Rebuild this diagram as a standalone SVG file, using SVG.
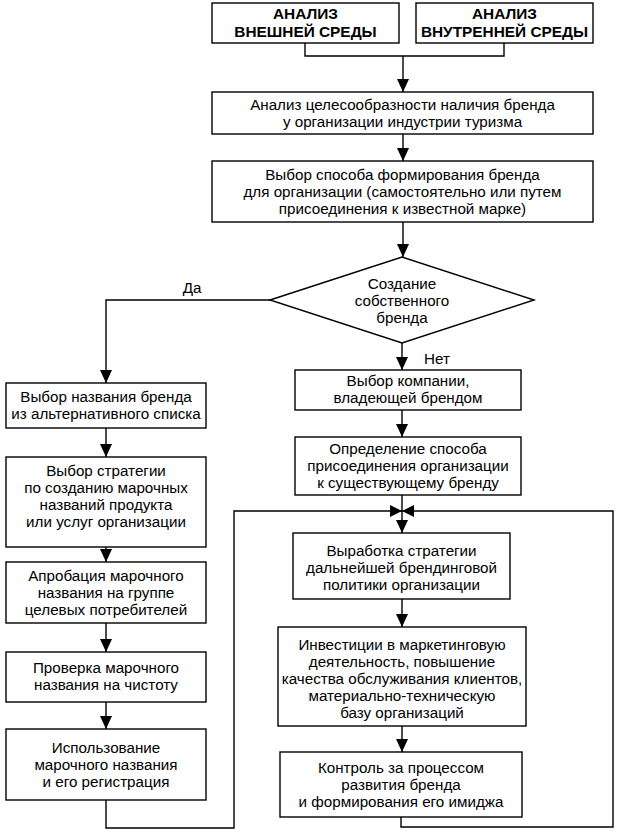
<svg xmlns="http://www.w3.org/2000/svg" width="623" height="833" viewBox="0 0 623 833">
<defs>
<marker id="arr" markerUnits="userSpaceOnUse" markerWidth="14" markerHeight="12" refX="13" refY="6" orient="auto" viewBox="0 0 14 12">
<path d="M0,0 L13,6 L0,12 Z" fill="#000"/>
</marker>
<style>
.b{fill:#fff;stroke:#000;stroke-width:1.4}
.c{fill:none;stroke:#000;stroke-width:1.4}
text{font-family:"Liberation Sans",Arial,sans-serif;font-size:15.2px;fill:#000;text-anchor:middle}
.h{font-weight:bold;font-size:15.4px}
</style>
</defs>
<rect width="623" height="833" fill="#fff"/>
<g id="connectors">
<path class="c" d="M305,43 V56 H504 V43"/>
<path class="c" d="M403,56 V92" marker-end="url(#arr)"/>
<path class="c" d="M403,134 V161" marker-end="url(#arr)"/>
<path class="c" d="M403,222 V257" marker-end="url(#arr)"/>
<path class="c" d="M270,300 H106 V383" marker-end="url(#arr)"/>
<path class="c" d="M402,343 V370" marker-end="url(#arr)"/>
<path class="c" d="M402,410 V437" marker-end="url(#arr)"/>
<path class="c" d="M402,495 V533" marker-end="url(#arr)"/>
<path class="c" d="M402,599 V627" marker-end="url(#arr)"/>
<path class="c" d="M402,726 V752" marker-end="url(#arr)"/>
<path class="c" d="M106,428 V457" marker-end="url(#arr)"/>
<path class="c" d="M106,547 V562" marker-end="url(#arr)"/>
<path class="c" d="M106,623 V652" marker-end="url(#arr)"/>
<path class="c" d="M106,702 V729" marker-end="url(#arr)"/>
<path class="c" d="M106,800 V828 H234 V511 H402"/>
<path class="c" d="M401,817 V827 H613 V511 H402"/>
<path d="M390,505 L390,517 L402,511 Z M414,505 L414,517 L402,511 Z" fill="#000"/>
<text x="192" y="293">Да</text>
<text x="437" y="364">Нет</text>
</g>
<g id="n_ext">
<rect class="b" x="212" y="3" width="187" height="40"/>
<text class="h" x="305.5" y="19">АНАЛИЗ</text>
<text class="h" x="305.5" y="37">ВНЕШНЕЙ СРЕДЫ</text>
</g>
<g id="n_int">
<rect class="b" x="416" y="3" width="177" height="40"/>
<text class="h" x="504.5" y="19">АНАЛИЗ</text>
<text class="h" x="504.5" y="37">ВНУТРЕННЕЙ СРЕДЫ</text>
</g>
<g id="n_analysis">
<rect class="b" x="212" y="92" width="381" height="42"/>
<text x="402.5" y="110">Анализ целесообразности наличия бренда</text>
<text x="402.5" y="127">у организации индустрии туризма</text>
</g>
<g id="n_method">
<rect class="b" x="212" y="161" width="381" height="61"/>
<text x="402.5" y="180">Выбор способа формирования бренда</text>
<text x="402.5" y="197">для организации (самостоятельно или путем</text>
<text x="402.5" y="214">присоединения к известной марке)</text>
</g>
<g id="n_decision">
<polygon class="b" points="270,300 402,257 534,300 402,343"/>
<text x="402" y="289">Создание</text>
<text x="402" y="306">собственного</text>
<text x="402" y="323">бренда</text>
</g>
<g id="n_l1">
<rect class="b" x="6" y="383" width="200" height="45"/>
<text x="106" y="402">Выбор названия бренда</text>
<text x="106" y="419">из альтернативного списка</text>
</g>
<g id="n_l2">
<rect class="b" x="6" y="457" width="200" height="90"/>
<text x="106" y="476">Выбор стратегии</text>
<text x="106" y="493">по созданию марочных</text>
<text x="106" y="510">названий продукта</text>
<text x="106" y="527">или услуг организации</text>
</g>
<g id="n_l3">
<rect class="b" x="6" y="562" width="200" height="61"/>
<text x="106" y="581">Апробация марочного</text>
<text x="106" y="598">названия на группе</text>
<text x="106" y="615">целевых потребителей</text>
</g>
<g id="n_l4">
<rect class="b" x="6" y="652" width="200" height="50"/>
<text x="106" y="673">Проверка марочного</text>
<text x="106" y="690">названия на чистоту</text>
</g>
<g id="n_l5">
<rect class="b" x="6" y="729" width="200" height="71"/>
<text x="106" y="753">Использование</text>
<text x="106" y="770">марочного названия</text>
<text x="106" y="787">и его регистрация</text>
</g>
<g id="n_r1">
<rect class="b" x="295" y="370" width="226" height="40"/>
<text x="408" y="386">Выбор компании,</text>
<text x="408" y="403">владеющей брендом</text>
</g>
<g id="n_r2">
<rect class="b" x="295" y="437" width="226" height="58"/>
<text x="408" y="454">Определение способа</text>
<text x="408" y="471">присоединения организации</text>
<text x="408" y="488">к существующему бренду</text>
</g>
<g id="n_r3">
<rect class="b" x="293" y="533" width="217" height="66"/>
<text x="401.5" y="556">Выработка стратегии</text>
<text x="401.5" y="573">дальнейшей брендинговой</text>
<text x="401.5" y="590">политики организации</text>
</g>
<g id="n_r4">
<rect class="b" x="278" y="627" width="248" height="99"/>
<text x="402" y="650">Инвестиции в маркетинговую</text>
<text x="402" y="667">деятельность, повышение</text>
<text x="402" y="684">качества обслуживания клиентов,</text>
<text x="402" y="701">материально-техническую</text>
<text x="402" y="718">базу организаций</text>
</g>
<g id="n_r5">
<rect class="b" x="280" y="752" width="242" height="65"/>
<text x="401" y="773">Контроль за процессом</text>
<text x="401" y="790">развития бренда</text>
<text x="401" y="807">и формирования его имиджа</text>
</g>
</svg>
